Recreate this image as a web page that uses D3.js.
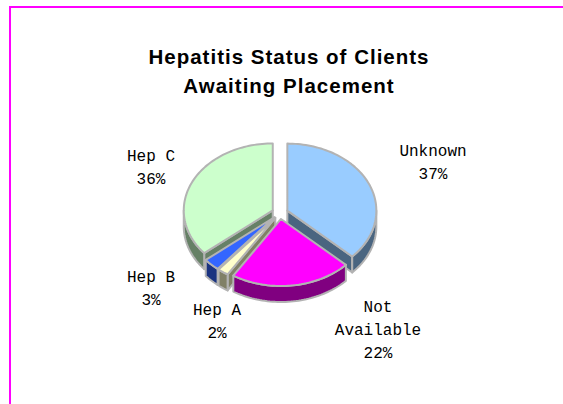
<!DOCTYPE html>
<html>
<head>
<meta charset="utf-8">
<script src="https://cdn.jsdelivr.net/npm/d3@7"></script>
<style>
    body { margin: 0; background: #fff; }
    svg { display: block; }
</style>
</head>
<body>
<div id="chart"></div>
<script>
// data
const categories = ['Unknown', 'Not Available', 'Hep A', 'Hep B', 'Hep C'];
const labelLines = [['Unknown'], ['Not', 'Available'], ['Hep A'], ['Hep B'], ['Hep C']];
const percents = [37, 22, 2, 3, 36];
const topColors = ['#99ccff', '#ff00ff', '#ffffcc', '#3366ff', '#ccffcc'];
const sideColors = ['#4a6580', '#800080', '#808066', '#1a3380', '#668066'];

// where the label text blocks sit (centre x, first baseline y)
const labelPos = {
    'Unknown': [433, 156],
    'Not Available': [378, 312],
    'Hep A': [217, 315],
    'Hep B': [151, 282],
    'Hep C': [151, 161]
};

const config = {
    width: 563,
    height: 404,
    cx: 280,
    cy: 213,
    rx: 89,
    ry: 67,
    depth: 16,
    explode: 8,
    lineGap: 23
};

const svg = d3.select('#chart')
    .append('svg')
    .attr('width', config.width)
    .attr('height', config.height);

// magenta frame, only top and left edges are inside the window
svg.append('path')
    .attr('d', `M 10 ${config.height + 5} L 10 7 L ${config.width + 5} 7`)
    .attr('fill', 'none')
    .attr('stroke', '#ff00ff')
    .attr('stroke-width', 2);

const title = svg.append('text')
    .attr('text-anchor', 'middle')
    .style('font-family', '"Liberation Sans", Arial, sans-serif')
    .style('font-weight', 'bold')
    .style('font-size', '20.5px')
    .style('letter-spacing', '1px');
title.append('tspan').attr('x', 289).attr('y', 64).text('Hepatitis Status of Clients');
title.append('tspan').attr('x', 289).attr('y', 93).text('Awaiting Placement');

const slices = d3.pie().sort(null).value(d => d)(percents);

const k = config.ry / config.rx;
const line = d3.line();

// point on the (exploded) ellipse rim
function rimPoint(s, a, dz) {
    return [s.ox + config.cx + config.rx * Math.sin(a),
            s.oy + config.cy - config.ry * Math.cos(a) + dz];
}

function arcPoints(s, a0, a1, dz) {
    const n = Math.max(2, Math.ceil((a1 - a0) / 0.03));
    return d3.range(n + 1).map(i => rimPoint(s, a0 + (a1 - a0) * i / n, dz));
}

slices.forEach((s, i) => {
    const mid = (s.startAngle + s.endAngle) / 2;
    s.mid = mid;
    s.ox = config.explode * Math.sin(mid);
    s.oy = -config.explode * Math.cos(mid) * k;
    s.apex = [config.cx + s.ox, config.cy + s.oy];
    s.index = i;
});

// back to front
const order = slices.slice().sort((a, b) => -Math.cos(a.mid) - -Math.cos(b.mid));

const pieGroup = svg.append('g');
const strokeStyle = g => g
    .attr('stroke', '#b3b3b3')
    .attr('stroke-width', 2)
    .attr('stroke-linejoin', 'round');

order.forEach(s => {
    const g = pieGroup.append('g');
    const d = config.depth;
    const side = sideColors[s.index];
    const a0 = s.startAngle, a1 = s.endAngle;
    const apexLow = [s.apex[0], s.apex[1] + d];

    // cut face at the start angle
    if (Math.sin(a0) < -1e-6) {
        const p = rimPoint(s, a0, 0);
        g.append('path')
            .attr('d', line([s.apex, p, [p[0], p[1] + d], apexLow]) + 'Z')
            .attr('fill', side)
            .call(strokeStyle);
    }
    // cut face at the end angle
    if (Math.sin(a1) > 1e-6) {
        const p = rimPoint(s, a1, 0);
        g.append('path')
            .attr('d', line([s.apex, p, [p[0], p[1] + d], apexLow]) + 'Z')
            .attr('fill', side)
            .call(strokeStyle);
    }
    // outer wall, front half only
    const w0 = Math.max(a0, Math.PI / 2);
    const w1 = Math.min(a1, Math.PI * 1.5);
    if (w1 > w0) {
        const pts = arcPoints(s, w0, w1, 0).concat(arcPoints(s, w0, w1, d).reverse());
        g.append('path')
            .attr('d', line(pts) + 'Z')
            .attr('fill', side)
            .call(strokeStyle);
    }
    // top face
    g.append('path')
        .attr('d', line([s.apex].concat(arcPoints(s, a0, a1, 0))) + 'Z')
        .attr('fill', topColors[s.index])
        .call(strokeStyle);
});

// data labels
const labels = svg.append('g')
    .style('font-family', '"Liberation Mono", "Courier New", monospace')
    .style('font-size', '16px')
    .attr('fill', '#000')
    .attr('text-anchor', 'middle');

categories.forEach((c, i) => {
    const [x, y] = labelPos[c];
    const t = labels.append('text');
    const lines = labelLines[i].concat([percents[i] + '%']);
    lines.forEach((l, j) => {
        t.append('tspan')
            .attr('x', x)
            .attr('y', y + j * config.lineGap)
            .text(l);
    });
});
</script>
</body>
</html>
